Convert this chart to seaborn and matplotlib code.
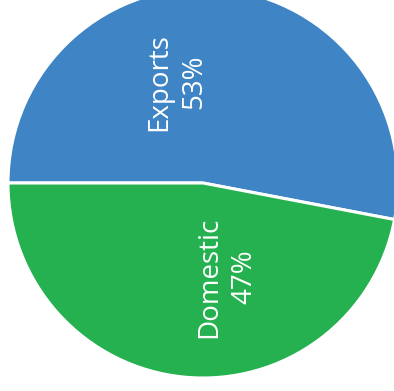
import matplotlib
matplotlib.use("Agg")
import matplotlib.pyplot as plt
import seaborn as sns

# data
categories = ["Exports", "Domestic"]
shares = [53, 47]
colors = ["#3F85C6", "#25B150"]

sns.set_style("white")
plt.rcParams['font.family'] = ['Open Sans', 'DejaVu Sans']

fig = plt.figure(figsize=(3.94, 3.91), dpi=100)
ax = fig.add_axes([0, 0, 1, 1])

# pie in pixel-like data units so it can run off the top edge like the original
cx, cy, r = 203, 208, 195
wedges, _ = ax.pie(shares, colors=colors, startangle=180, counterclock=False,
                   center=(cx, cy), radius=r,
                   wedgeprops=dict(edgecolor="white", linewidth=2.2))

label_pos = [(177, 309), (227, 114)]
for name, val, (x, y) in zip(categories, shares, label_pos):
    ax.text(x, y, f"{name}\n{val}%", rotation=90, ha="center", va="center",
            color="white", fontsize=20, linespacing=1.35, multialignment="center")

ax.set_xlim(0, 394)
ax.set_ylim(0, 391)
ax.set_aspect("equal")
ax.axis("off")

fig.savefig("out.png", dpi=100, facecolor="white")
